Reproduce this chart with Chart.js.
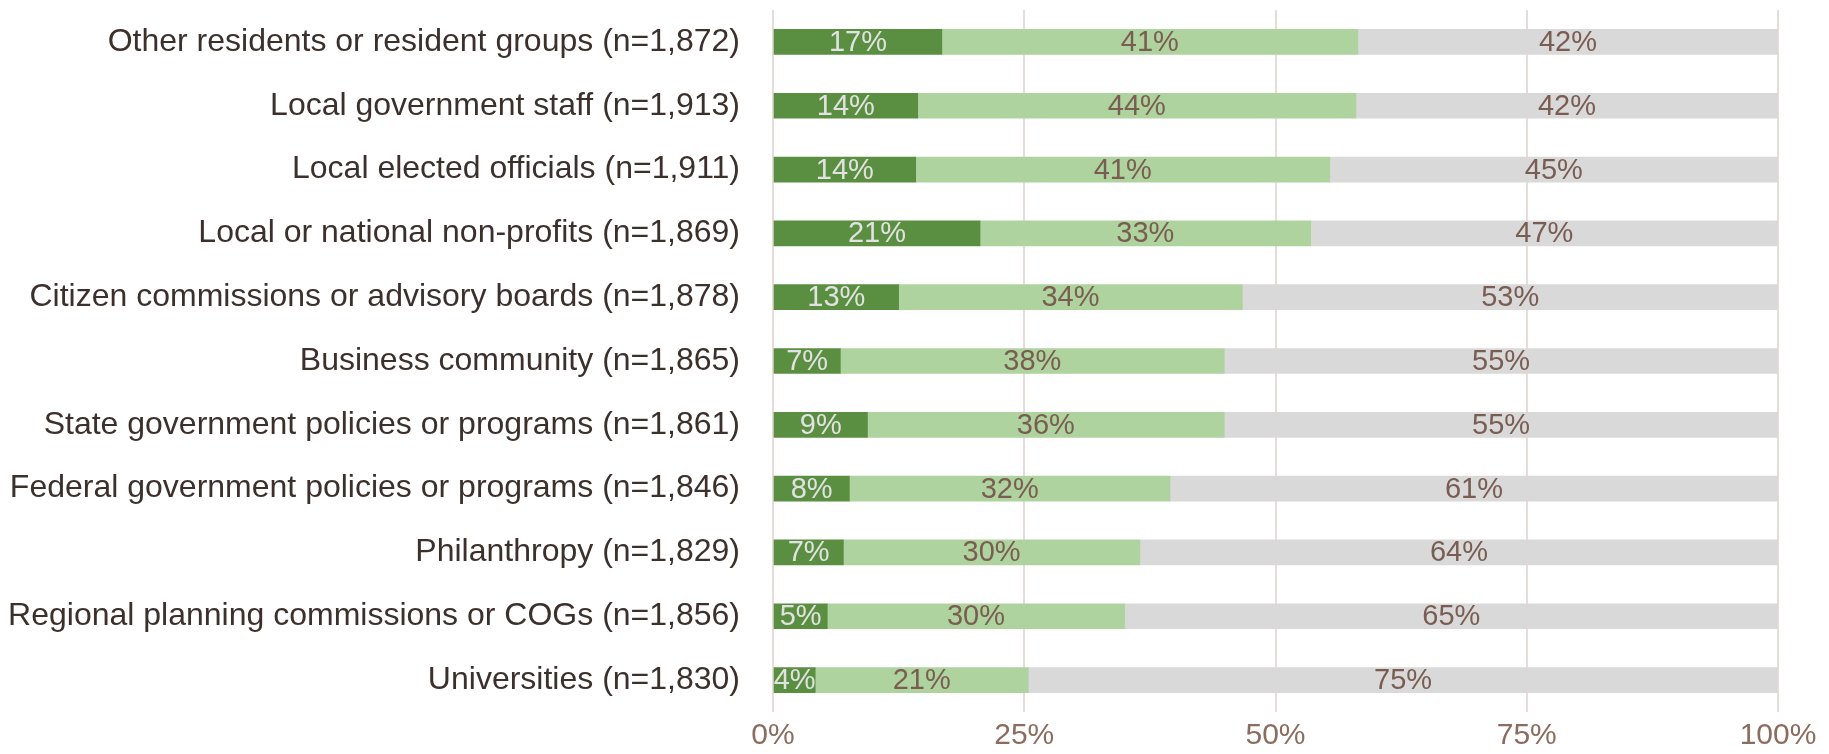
<!DOCTYPE html>
<html>
<head>
<meta charset="utf-8">
<script src="https://cdn.jsdelivr.net/npm/chart.js@4.4.1/dist/chart.umd.min.js"></script>
<style>
  html, body { margin: 0; padding: 0; background: #ffffff; }
  #wrap { width: 1829px; height: 754px; }
</style>
</head>
<body>
<div id="wrap"><canvas id="c" width="1829" height="754"></canvas></div>
<script>
const categories = [
  "Other residents or resident groups (n=1,872)",
  "Local government staff (n=1,913)",
  "Local elected officials (n=1,911)",
  "Local or national non-profits (n=1,869)",
  "Citizen commissions or advisory boards (n=1,878)",
  "Business community (n=1,865)",
  "State government policies or programs (n=1,861)",
  "Federal government policies or programs (n=1,846)",
  "Philanthropy (n=1,829)",
  "Regional planning commissions or COGs (n=1,856)",
  "Universities (n=1,830)"
];
const darkValues  = [16.8, 14.4, 14.2, 20.6, 12.5, 6.7, 9.4, 7.6, 7.0, 5.4, 4.2];
const lightValues = [41.4, 43.6, 41.2, 32.9, 34.2, 38.2, 35.5, 31.9, 29.5, 29.6, 21.2];
const greyValues  = [41.8, 42.0, 44.6, 46.5, 53.3, 55.1, 55.1, 60.5, 63.5, 65.0, 74.6];
const xTickValues = [0, 25, 50, 75, 100];

const FONT = "'Liberation Sans', Arial, sans-serif";

const segLabels = {
  id: 'segLabels',
  afterDatasetsDraw(chart) {
    const ctx = chart.ctx;
    ctx.save();
    ctx.font = "29px " + FONT;
    ctx.textAlign = 'center';
    ctx.textBaseline = 'middle';
    chart.data.datasets.forEach((ds, di) => {
      const meta = chart.getDatasetMeta(di);
      meta.data.forEach((bar, i) => {
        const v = ds.data[i];
        const cx = (bar.x + bar.base) / 2;
        ctx.fillStyle = ds.labelColor;
        ctx.fillText(Math.round(v) + '%', cx, bar.y + 1);
      });
    });
    ctx.restore();
  }
};

new Chart(document.getElementById('c'), {
  type: 'bar',
  data: {
    labels: categories,
    datasets: [
      { data: darkValues, backgroundColor: '#5A8E40', labelColor: '#E2E2E2' },
      { data: lightValues, backgroundColor: '#AFD39E', labelColor: '#7A5D52' },
      { data: greyValues, backgroundColor: '#D9D9D9', labelColor: '#7A5D52' }
    ]
  },
  options: {
    indexAxis: 'y',
    responsive: false,
    animation: false,
    devicePixelRatio: 1,
    layout: { padding: { top: 10, right: 51, left: 0, bottom: 0 } },
    datasets: { bar: { barThickness: 25, borderWidth: 0 } },
    plugins: { legend: { display: false }, tooltip: { enabled: false } },
    scales: {
      x: {
        stacked: true,
        min: 0, max: 100,
        afterBuildTicks(scale) { scale.ticks = xTickValues.map(v => ({ value: v })); },
        afterFit(scale) {
          scale.height = 42;
          scale.paddingLeft = 0; scale.paddingRight = 0;
        },
        grid: { color: '#E6DDDB', lineWidth: 2, drawTicks: false },
        border: { display: false },
        ticks: {
          padding: 6,
          color: '#8B6C5E',
          font: { family: FONT, size: 30 },
          callback: v => v + '%'
        }
      },
      y: {
        stacked: true,
        afterFit(scale) {
          scale.width = 773;
          scale.paddingTop = 0; scale.paddingBottom = 0;
        },
        grid: { display: false, drawTicks: false },
        border: { display: false },
        ticks: {
          padding: 33,
          color: '#3B302C',
          font: { family: FONT, size: 32 }
        }
      }
    }
  },
  plugins: [segLabels]
});
</script>
</body>
</html>
